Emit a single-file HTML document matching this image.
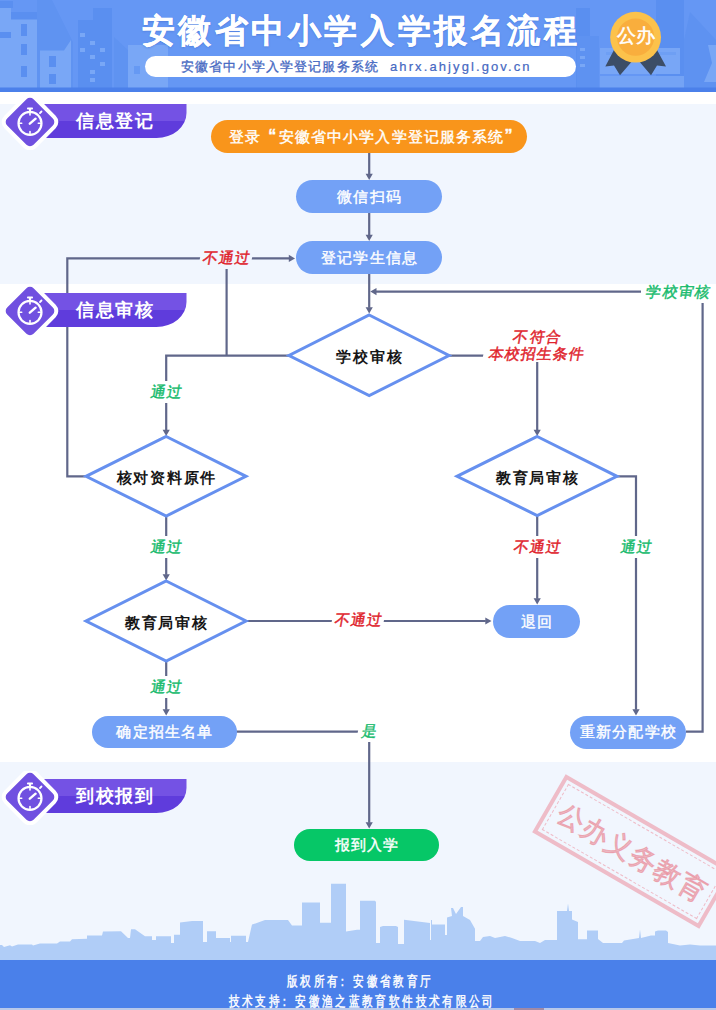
<!DOCTYPE html>
<html><head><meta charset="utf-8">
<style>
*{margin:0;padding:0;box-sizing:border-box}
html,body{width:716px;height:1010px;overflow:hidden;background:#fff;font-family:"Liberation Sans",sans-serif}
.abs{position:absolute}
#hdr{left:0;top:0;width:716px;height:88px;background:#6397f2;overflow:hidden}
#hstripe{left:0;top:87px;width:716px;height:5px;background:#4a80ea}
#sec1{left:0;top:103.5px;width:716px;height:180.5px;background:#f1f6fe}
#sec3{left:0;top:762px;width:716px;height:198px;background:#f1f6fe}
#ftr{left:0;top:960px;width:716px;height:50px;background:#4a80ea}
.pill{position:absolute;border-radius:17px;color:#fff;font-size:15px;letter-spacing:1.2px;text-indent:1.2px;-webkit-text-stroke:0.4px #fff;display:flex;align-items:center;justify-content:center;background:#73a1f6;padding-top:1px;white-space:nowrap}
.dtext{position:absolute;color:#161616;font-size:15px;font-weight:bold;letter-spacing:1.7px;text-indent:1.7px;text-align:center;line-height:20px;white-space:nowrap}
.lbl{position:absolute;font-size:15px;transform:skewX(-10deg);letter-spacing:1.1px;text-indent:1.1px;-webkit-text-stroke:0.45px currentColor;line-height:22px;text-align:center;white-space:nowrap}
.red{color:#e0232c}
.grn{color:#19bb6e}
.tag{position:absolute;left:0;width:190px;height:52px}
.tagbar{position:absolute;left:42px;top:7px;width:145px;height:35px;border-radius:0 10px 40px 0;background:linear-gradient(#7552e2 0%,#7552e2 50%,#6440d6 50%,#6440d6 100%)}
.tagtxt{position:absolute;left:75px;top:7px;height:35px;line-height:35px;color:#fff;font-size:19px;font-weight:bold;letter-spacing:1px}
</style></head><body>
<svg class="abs" style="left:0;top:0" width="716" height="92" viewBox="0 0 716 92">
<rect x="0" y="0" width="716" height="88" fill="#6597f4"/>
<!-- left cluster -->
<path d="M0,1 H13 V8 H0 Z" fill="#5a8ff0"/>
<path d="M9,12 H40 V88 H9 Z" fill="#5a8ff0"/>
<path d="M37,88 V0 H52 L73,42 V88 Z" fill="#5f93f1"/>
<path d="M0,8 H11 V88 H0 Z" fill="#79a7f6"/>
<rect x="0" y="32" width="11" height="6" fill="#5a8ff0"/>
<rect x="11" y="19.5" width="26" height="68.5" fill="#79a7f6"/>
<rect x="21" y="24" width="6" height="12" fill="#5a8ff0"/>
<rect x="21" y="44" width="6" height="11" fill="#5a8ff0"/>
<rect x="21" y="66" width="6" height="11" fill="#5a8ff0"/>
<path d="M40,88 V50.5 H64 L71,40 V88 Z" fill="#79a7f6"/>
<rect x="49" y="56" width="7" height="11" fill="#5a8ff0"/>
<rect x="49" y="74" width="7" height="10" fill="#5a8ff0"/>
<path d="M78,88 V20 H93 V8 H112 V88 Z" fill="#5a8ff0"/>
<rect x="80" y="33" width="5" height="4" fill="#79a7f6"/><rect x="90" y="41" width="5" height="4" fill="#79a7f6"/>
<rect x="80" y="48" width="5" height="4" fill="#79a7f6"/><rect x="90" y="55" width="5" height="4" fill="#79a7f6"/>
<rect x="100" y="48" width="5" height="4" fill="#79a7f6"/><rect x="100" y="62" width="5" height="4" fill="#79a7f6"/>
<rect x="90" y="70" width="5" height="4" fill="#79a7f6"/><rect x="90" y="78" width="5" height="4" fill="#79a7f6"/>
<path d="M114,88 V37 L128,50 V88 Z" fill="#5f93f1"/>
<rect x="128" y="45" width="40" height="43" fill="#79a7f6"/>
<rect x="134" y="66" width="6" height="8" fill="#6699f3"/>
<!-- under title -->
<!-- right cluster -->
<path d="M576,88 V8 H590 V88 Z" fill="#5a8ff0"/>
<rect x="577" y="36" width="22" height="52" fill="#5e92f1"/>
<rect x="580" y="48" width="5" height="3" fill="#79a7f6"/><rect x="580" y="56" width="5" height="3" fill="#79a7f6"/><rect x="580" y="64" width="5" height="3" fill="#79a7f6"/>
<rect x="656" y="0" width="28" height="88" fill="#5a8ff0"/>
<rect x="600" y="48" width="80" height="26" fill="#78a6f6"/>
<rect x="606" y="52" width="70" height="3" fill="#6e9ff4"/>
<rect x="600" y="76" width="84" height="12" fill="#74a3f5"/>
<path d="M684,88 V40 L690,12 L716,40 V88 Z" fill="#5e92f1"/>
<path d="M708,45 L716,45 V82 L704,82 L712,63 Z" fill="#79a7f6"/>
<rect x="0" y="87.5" width="716" height="4.5" fill="#4b80ea"/>
</svg>
<div id="sec1" class="abs"></div>
<div id="sec3" class="abs"></div>
<div id="ftr" class="abs"></div>

<!-- title -->
<div class="abs" style="left:141.5px;top:8.5px;width:480px;height:44px;line-height:44px;font-size:33px;font-weight:bold;color:#fff;white-space:nowrap;letter-spacing:3.6px;-webkit-text-stroke:0.25px #fff;text-shadow:0 1px 2px rgba(40,80,180,0.35)">安徽省中小学入学报名流程</div>
<div class="abs" style="left:145px;top:56px;width:431px;height:21px;border-radius:11px;background:#fff"></div>
<div class="abs" style="left:181px;top:56px;height:21px;line-height:21px;font-size:13px;color:#4568c2;letter-spacing:1.15px;white-space:nowrap;-webkit-text-stroke:0.3px #4568c2">安徽省中小学入学登记服务系统</div>
<div class="abs" style="left:390px;top:56px;height:21px;line-height:21px;font-size:13px;color:#4568c2;letter-spacing:2.1px;white-space:nowrap;-webkit-text-stroke:0.2px #4568c2">ahrx.ahjygl.gov.cn</div>

<svg class="abs" style="left:595px;top:5px" width="80" height="80" viewBox="595 5 80 80">
<path d="M615,48 L632.7,60.6 L620,75.3 L614,65.5 L605.3,66.5 Z" fill="#3c4d66"/>
<path d="M656,48 L638.5,60.6 L651,75.3 L657,65.5 L666,66.5 Z" fill="#3c4d66"/>
<circle cx="635.6" cy="37.2" r="25.4" fill="#fcc24b"/>
<circle cx="635.6" cy="37.2" r="18.6" fill="#f9ae3d"/>
</svg>
<div class="abs" style="left:605px;top:24px;width:62px;text-align:center;line-height:24px;font-size:19px;color:#fff;-webkit-text-stroke:0.5px #fff">公办</div>
<svg class="abs" style="left:0;top:860px" width="716" height="100" viewBox="0 860 716 100">
<path fill="#b0cdf7" d="M0,945 L2,945 L4,947 L10,945.2 L12,946.5 L18,944.4 L32,944.4 L33,945.5 L40,943.5 L57,943.5 L60,941.5 L70,941.5 L72,939.3 L87,938.8 L87,935.6 L102,935.6 L103,931.5 L121,931.3 L128,938 L130,938 L131,929.3 L135,929.3 L145,936.2 L152,936.2 L152,940 L156,940 L156,936.2 L171,936.2 L171,943 L174,943 L174,934.8 L180,934.8 L180,922.5 L192,921.1 L203,921.1 L203,942 L207,942 L207,931.3 L216,931.3 L216,938.1 L230,938.1 L230,942 L231,942 L231,935.8 L246,935.8 L246,942 L248,942 L252,924.6 L265,920 L288,920 L292,925.6 L302,925.6 L302,902.6 L320,902.6 L320,922.8 L331,922.8 L331,883.7 L346,883.7 L346,931.6 L357,929.8 L360,929.8 L360,900.7 L375,900.7 L376,902 L376,943 L380,943 L380,927 L383,926 L396,926 L398,927 L398,944 L404,944 L404,919.7 L430,923 L430,940 L431,940 L431,920 L432,920 L432,924.5 L445,924.5 L445,935 L447,935 L447,917.5 L452,916 L451,908 L453,908 L456,914 L461,907 L463,907 L463,916 L470,920 L475,928.7 L475,941 L480,941 L483,937 L490,936 L495,938 L505,936 L512,938 L520,941 L535,941 L540,943 L545,940 L557,940 L557,911 L567,911 L568,903.6 L569,911 L572,911 L572,919.6 L578,922 L578,939.2 L587,939.2 L587,930.6 L598,930.6 L598,939 L603,943 L622,943 L624,940.5 L639,938 L640,929.4 L641,938 L651,935.6 L655,935.6 L655,931.5 L658,930.6 L666,930.6 L668,932 L668,943 L680,945.4 L690,944.5 L700,945.4 L716,945.4 L716,960 L0,960 Z"/>
</svg>
<div class="abs" style="left:535.5px;top:818px;width:193px;height:67px;transform:rotate(30deg);border:4px solid rgba(236,130,145,0.5)">
<div class="abs" style="left:3px;top:3px;right:3px;bottom:3px;border:1px dashed rgba(236,130,145,0.5)"></div>
<div class="abs" style="left:0;top:2px;width:185px;height:59px;line-height:59px;text-align:center;font-size:27px;color:rgba(232,120,135,0.5);-webkit-text-stroke:1px rgba(232,120,135,0.5);letter-spacing:1px;white-space:nowrap">公办义务教育</div>
</div>
<div class="abs" style="left:0;top:1008px;width:716px;height:2px;background:#b8c8ea"></div>
<div class="abs" style="left:514px;top:1008px;width:30px;height:2px;background:#a08aa6"></div>
<!-- diagram lines -->
<svg class="abs" style="left:0;top:0" width="716" height="1010" viewBox="0 0 716 1010">
<path d="M369.2,153 L369.2,174.3" stroke="#60678a" stroke-width="2.2" fill="none" stroke-linejoin="miter"/>
<path d="M369.20,180.00 L365.60,173.80 L372.80,173.80 Z" fill="#60678a"/>
<path d="M369.2,212.5 L369.2,235.3" stroke="#60678a" stroke-width="2.2" fill="none" stroke-linejoin="miter"/>
<path d="M369.20,241.00 L365.60,234.80 L372.80,234.80 Z" fill="#60678a"/>
<path d="M369.2,273 L369.2,307.8" stroke="#60678a" stroke-width="2.2" fill="none" stroke-linejoin="miter"/>
<path d="M369.20,313.50 L365.60,307.30 L372.80,307.30 Z" fill="#60678a"/>
<path d="M686,731.7 L702.6,731.7 L702.6,303" stroke="#60678a" stroke-width="2.2" fill="none" stroke-linejoin="miter"/>
<path d="M641,291.6 L376,291.6" stroke="#60678a" stroke-width="2.2" fill="none" stroke-linejoin="miter"/>
<path d="M370.30,291.60 L376.50,288.00 L376.50,295.20 Z" fill="#60678a"/>
<path d="M289,355.6 L166.2,355.6 L166.2,430.3" stroke="#60678a" stroke-width="2.2" fill="none" stroke-linejoin="miter"/>
<path d="M166.20,436.00 L162.60,429.80 L169.80,429.80 Z" fill="#60678a"/>
<path d="M226.6,355.6 L226.6,258.4" stroke="#60678a" stroke-width="2.2" fill="none" stroke-linejoin="miter"/>
<path d="M85.5,476.3 L67.3,476.3 L67.3,258.4 L289.3,258.4" stroke="#60678a" stroke-width="2.2" fill="none" stroke-linejoin="miter"/>
<path d="M295.00,258.40 L288.80,262.00 L288.80,254.80 Z" fill="#60678a"/>
<path d="M449,355.6 L537.2,355.6 L537.2,430.3" stroke="#60678a" stroke-width="2.2" fill="none" stroke-linejoin="miter"/>
<path d="M537.20,436.00 L533.60,429.80 L540.80,429.80 Z" fill="#60678a"/>
<path d="M166.2,516 L166.2,574.8" stroke="#60678a" stroke-width="2.2" fill="none" stroke-linejoin="miter"/>
<path d="M166.20,580.50 L162.60,574.30 L169.80,574.30 Z" fill="#60678a"/>
<path d="M246,621 L485.8,621" stroke="#60678a" stroke-width="2.2" fill="none" stroke-linejoin="miter"/>
<path d="M491.50,621.00 L485.30,624.60 L485.30,617.40 Z" fill="#60678a"/>
<path d="M166.2,661 L166.2,709.8" stroke="#60678a" stroke-width="2.2" fill="none" stroke-linejoin="miter"/>
<path d="M166.20,715.50 L162.60,709.30 L169.80,709.30 Z" fill="#60678a"/>
<path d="M236,731.7 L369.2,731.7 L369.2,822.8" stroke="#60678a" stroke-width="2.2" fill="none" stroke-linejoin="miter"/>
<path d="M369.20,828.50 L365.60,822.30 L372.80,822.30 Z" fill="#60678a"/>
<path d="M537.2,516 L537.2,598.8" stroke="#60678a" stroke-width="2.2" fill="none" stroke-linejoin="miter"/>
<path d="M537.20,604.50 L533.60,598.30 L540.80,598.30 Z" fill="#60678a"/>
<path d="M617,476.3 L636,476.3 L636,709.8" stroke="#60678a" stroke-width="2.2" fill="none" stroke-linejoin="miter"/>
<path d="M636.00,715.50 L632.40,709.30 L639.60,709.30 Z" fill="#60678a"/>
<g stroke="#6690ef" stroke-width="3" fill="#fff">
<path d="M369.2,315 L449,355.5 L369.2,395.5 L289,355.5 Z"/>
<path d="M166.2,436.5 L246,476.3 L166.2,516 L86,476.3 Z"/>
<path d="M166.2,581 L246,621 L166.2,661 L86,621 Z"/>
<path d="M537.2,436.5 L617,476.3 L537.2,515.5 L457,476.3 Z"/>
</g>
</svg>

<!-- pills -->
<div class="pill" style="left:210.5px;top:119.8px;width:316.5px;height:33px;background:#f9951b;letter-spacing:1.14px;padding-left:11px;padding-top:2px">登录<span style="display:inline-block;width:16px;text-align:right;text-indent:0;font-size:16px;font-weight:bold;position:relative;top:-1.5px;line-height:10px">“</span>安徽省中小学入学登记服务系统<span style="display:inline-block;width:16px;text-align:left;text-indent:0;font-size:16px;font-weight:bold;position:relative;top:-1.5px;line-height:10px">”</span></div>
<div class="pill" style="left:296px;top:180px;width:146px;height:33px">微信扫码</div>
<div class="pill" style="left:296px;top:241px;width:146px;height:33px">登记学生信息</div>
<div class="pill" style="left:92px;top:716px;width:145px;height:32px">确定招生名单</div>
<div class="pill" style="left:493px;top:605px;width:87px;height:33px">退回</div>
<div class="pill" style="left:569.5px;top:715.5px;width:116.5px;height:33px">重新分配学校</div>
<div class="pill" style="left:294px;top:829px;width:145px;height:32px;background:#06c767">报到入学</div>

<!-- diamond texts -->
<div class="dtext" style="left:289px;top:346.5px;width:160px">学校审核</div>
<div class="dtext" style="left:86px;top:467.5px;width:160px">核对资料原件</div>
<div class="dtext" style="left:86px;top:612.5px;width:160px">教育局审核</div>
<div class="dtext" style="left:457px;top:467.5px;width:160px">教育局审核</div>

<!-- labels -->
<div class="lbl red" style="left:200px;top:246.5px;width:52px;background:#f1f6fe">不通过</div>
<div class="lbl grn" style="left:640px;top:280.5px;width:76px">学校审核</div>
<div class="lbl red" style="left:485px;top:328px;width:101px;background:#fff;line-height:17px"><span style="position:relative;left:0px">不符合</span><br><span style="position:relative;left:3px">本校招生条件</span></div>
<div class="lbl grn" style="left:146px;top:380.5px;width:40px;background:#fff">通过</div>
<div class="lbl grn" style="left:146px;top:535.5px;width:40px;background:#fff">通过</div>
<div class="lbl grn" style="left:146px;top:675.5px;width:40px;background:#fff">通过</div>
<div class="lbl red" style="left:332px;top:608.5px;width:52px;background:#fff">不通过</div>
<div class="lbl red" style="left:511px;top:535.5px;width:52px;background:#fff">不通过</div>
<div class="lbl grn" style="left:616px;top:535.5px;width:40px;background:#fff">通过</div>
<div class="lbl grn" style="left:358px;top:719.5px;width:22px;background:#fff">是</div>

<!-- tags -->
<div class="abs" style="left:0;top:95.6px;width:200px;height:54px">
<svg class="abs" style="left:0;top:0" width="200" height="54" viewBox="0 0 200 54">
<linearGradient id="gb121_6" x1="0" y1="0" x2="0" y2="1"><stop offset="0.49" stop-color="#7452e4"/><stop offset="0.49" stop-color="#5f3cdc"/></linearGradient><path d="M44,8 H186.5 V17 A30,25 0 0 1 156.5,42 H44 Z" fill="url(#gb121_6)"/>
<rect x="7.35" y="3.35" width="45.3" height="45.3" rx="9" fill="#fff" transform="rotate(45 30 26)"/>
<rect x="11.35" y="7.35" width="37.3" height="37.3" rx="5" fill="#7050e0" transform="rotate(45 30 26)"/>
<g stroke="#fff" fill="none" stroke-linecap="round">
<circle cx="30" cy="27.3" r="11.5" stroke-width="2.2"/>
<path d="M30,17 V19 M30,35.6 V37.6 M19.7,27.3 H21.7 M38.3,27.3 H40.3" stroke-width="1.6"/>
<path d="M29.8,27.7 L35.6,22.7" stroke-width="2.4"/>
<path d="M40,17 L41.5,15.5" stroke-width="1.8"/>
</g>
<rect x="27" y="11.4" width="6" height="2.2" rx="0.8" fill="#fff"/>
<rect x="29" y="13" width="2" height="3" fill="#fff"/>
</svg>
<div class="abs" style="left:76px;top:8px;height:34px;line-height:34px;color:#fff;font-size:18px;font-weight:bold;letter-spacing:1.6px;white-space:nowrap">信息登记</div>
</div>
<div class="abs" style="left:0;top:285px;width:200px;height:54px">
<svg class="abs" style="left:0;top:0" width="200" height="54" viewBox="0 0 200 54">
<linearGradient id="gb310" x1="0" y1="0" x2="0" y2="1"><stop offset="0.49" stop-color="#7452e4"/><stop offset="0.49" stop-color="#5f3cdc"/></linearGradient><path d="M44,8 H186.5 V17 A30,25 0 0 1 156.5,42 H44 Z" fill="url(#gb310)"/>
<rect x="7.35" y="3.35" width="45.3" height="45.3" rx="9" fill="#fff" transform="rotate(45 30 26)"/>
<rect x="11.35" y="7.35" width="37.3" height="37.3" rx="5" fill="#7050e0" transform="rotate(45 30 26)"/>
<g stroke="#fff" fill="none" stroke-linecap="round">
<circle cx="30" cy="27.3" r="11.5" stroke-width="2.2"/>
<path d="M30,17 V19 M30,35.6 V37.6 M19.7,27.3 H21.7 M38.3,27.3 H40.3" stroke-width="1.6"/>
<path d="M29.8,27.7 L35.6,22.7" stroke-width="2.4"/>
<path d="M40,17 L41.5,15.5" stroke-width="1.8"/>
</g>
<rect x="27" y="11.4" width="6" height="2.2" rx="0.8" fill="#fff"/>
<rect x="29" y="13" width="2" height="3" fill="#fff"/>
</svg>
<div class="abs" style="left:76px;top:8px;height:34px;line-height:34px;color:#fff;font-size:18px;font-weight:bold;letter-spacing:1.6px;white-space:nowrap">信息审核</div>
</div>
<div class="abs" style="left:0;top:771px;width:200px;height:54px">
<svg class="abs" style="left:0;top:0" width="200" height="54" viewBox="0 0 200 54">
<linearGradient id="gb797" x1="0" y1="0" x2="0" y2="1"><stop offset="0.49" stop-color="#7452e4"/><stop offset="0.49" stop-color="#5f3cdc"/></linearGradient><path d="M44,8 H186.5 V17 A30,25 0 0 1 156.5,42 H44 Z" fill="url(#gb797)"/>
<rect x="7.35" y="3.35" width="45.3" height="45.3" rx="9" fill="#fff" transform="rotate(45 30 26)"/>
<rect x="11.35" y="7.35" width="37.3" height="37.3" rx="5" fill="#7050e0" transform="rotate(45 30 26)"/>
<g stroke="#fff" fill="none" stroke-linecap="round">
<circle cx="30" cy="27.3" r="11.5" stroke-width="2.2"/>
<path d="M30,17 V19 M30,35.6 V37.6 M19.7,27.3 H21.7 M38.3,27.3 H40.3" stroke-width="1.6"/>
<path d="M29.8,27.7 L35.6,22.7" stroke-width="2.4"/>
<path d="M40,17 L41.5,15.5" stroke-width="1.8"/>
</g>
<rect x="27" y="11.4" width="6" height="2.2" rx="0.8" fill="#fff"/>
<rect x="29" y="13" width="2" height="3" fill="#fff"/>
</svg>
<div class="abs" style="left:76px;top:8px;height:34px;line-height:34px;color:#fff;font-size:18px;font-weight:bold;letter-spacing:1.6px;white-space:nowrap">到校报到</div>
</div>

<!-- footer text -->
<div class="abs" style="left:285px;top:970.5px;white-space:nowrap;color:#fff;font-size:14px;line-height:20px;-webkit-text-stroke:0.45px #fff"><span style="display:inline-block;width:13.3px;text-align:center;transform:scaleX(0.76)">版</span><span style="display:inline-block;width:13.3px;text-align:center;transform:scaleX(0.76)">权</span><span style="display:inline-block;width:13.3px;text-align:center;transform:scaleX(0.76)">所</span><span style="display:inline-block;width:13.3px;text-align:center;transform:scaleX(0.76)">有</span><span style="display:inline-block;width:13.3px;text-align:center;transform:scaleX(0.76);text-indent:-6px">：</span><span style="display:inline-block;width:13.3px;text-align:center;transform:scaleX(0.76)">安</span><span style="display:inline-block;width:13.3px;text-align:center;transform:scaleX(0.76)">徽</span><span style="display:inline-block;width:13.3px;text-align:center;transform:scaleX(0.76)">省</span><span style="display:inline-block;width:13.3px;text-align:center;transform:scaleX(0.76)">教</span><span style="display:inline-block;width:13.3px;text-align:center;transform:scaleX(0.76)">育</span><span style="display:inline-block;width:13.3px;text-align:center;transform:scaleX(0.76)">厅</span></div>
<div class="abs" style="left:226.5px;top:990.5px;white-space:nowrap;color:#fff;font-size:14px;line-height:20px;-webkit-text-stroke:0.45px #fff"><span style="display:inline-block;width:13.36px;text-align:center;transform:scaleX(0.76)">技</span><span style="display:inline-block;width:13.36px;text-align:center;transform:scaleX(0.76)">术</span><span style="display:inline-block;width:13.36px;text-align:center;transform:scaleX(0.76)">支</span><span style="display:inline-block;width:13.36px;text-align:center;transform:scaleX(0.76)">持</span><span style="display:inline-block;width:13.36px;text-align:center;transform:scaleX(0.76);text-indent:-6px">：</span><span style="display:inline-block;width:13.36px;text-align:center;transform:scaleX(0.76)">安</span><span style="display:inline-block;width:13.36px;text-align:center;transform:scaleX(0.76)">徽</span><span style="display:inline-block;width:13.36px;text-align:center;transform:scaleX(0.76)">渔</span><span style="display:inline-block;width:13.36px;text-align:center;transform:scaleX(0.76)">之</span><span style="display:inline-block;width:13.36px;text-align:center;transform:scaleX(0.76)">蓝</span><span style="display:inline-block;width:13.36px;text-align:center;transform:scaleX(0.76)">教</span><span style="display:inline-block;width:13.36px;text-align:center;transform:scaleX(0.76)">育</span><span style="display:inline-block;width:13.36px;text-align:center;transform:scaleX(0.76)">软</span><span style="display:inline-block;width:13.36px;text-align:center;transform:scaleX(0.76)">件</span><span style="display:inline-block;width:13.36px;text-align:center;transform:scaleX(0.76)">技</span><span style="display:inline-block;width:13.36px;text-align:center;transform:scaleX(0.76)">术</span><span style="display:inline-block;width:13.36px;text-align:center;transform:scaleX(0.76)">有</span><span style="display:inline-block;width:13.36px;text-align:center;transform:scaleX(0.76)">限</span><span style="display:inline-block;width:13.36px;text-align:center;transform:scaleX(0.76)">公</span><span style="display:inline-block;width:13.36px;text-align:center;transform:scaleX(0.76)">司</span></div>
</body></html>
